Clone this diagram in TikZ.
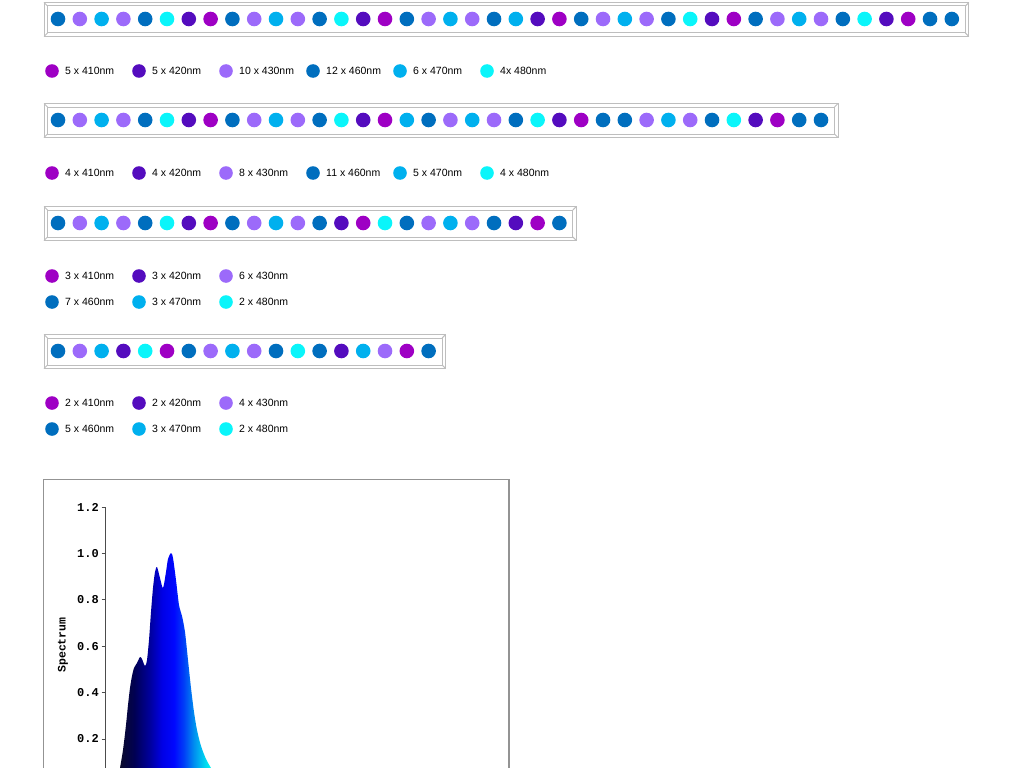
\documentclass[tikz,border=0pt]{standalone}
\usepackage{fontspec}
\setmainfont{Liberation Sans}
\setmonofont{Liberation Mono}
\usepackage{tikz}
\usetikzlibrary{calc}

\definecolor{nm410}{RGB}{158,0,196}
\definecolor{nm420}{RGB}{84,12,190}
\definecolor{nm430}{RGB}{156,106,250}
\definecolor{nm460}{RGB}{0,110,190}
\definecolor{nm470}{RGB}{0,176,238}
\definecolor{nm480}{RGB}{10,245,250}
\definecolor{tube}{RGB}{190,190,190}

\pgfdeclarehorizontalshading{spectrumfill}{100bp}{rgb(0bp)=(0.05,0.05,0.15); rgb(26bp)=(0.05,0.05,0.15); rgb(34bp)=(0,0,0.32); rgb(42bp)=(0,0,0.62); rgb(48bp)=(0,0,0.9); rgb(54bp)=(0,0.03,1); rgb(59bp)=(0,0.25,0.97); rgb(64bp)=(0,0.56,0.94); rgb(69bp)=(0,0.82,0.94); rgb(73bp)=(0,1,0.94); rgb(100bp)=(0,1,0.94)}

\tikzset{
  legtext/.style={anchor=west,inner sep=0pt,font=\fontsize{10.5}{12}\selectfont},
  ticktext/.style={anchor=east,inner sep=0pt,font=\fontsize{12}{12}\selectfont\ttfamily\bfseries},
  tubeline/.style={draw=tube,line width=1pt}
}

\begin{document}
\begin{tikzpicture}[x=1pt,y=-1pt]
\useasboundingbox (0,0) rectangle (1020,768);

\foreach \yc/\n in {19/42,120/36,223/24,351/18}{
  \draw[tubeline] (44,\yc-16.5) rectangle ({58+21.8*(\n-1)+17},\yc+17.5);
  \draw[tubeline] (47.5,\yc-13) rectangle ({58+21.8*(\n-1)+13.5},\yc+14);
  \draw[tubeline] (44,\yc-16.5) -- (47.5,\yc-13);
  \draw[tubeline] (44,\yc+17.5) -- (47.5,\yc+14);
  \draw[tubeline] ({58+21.8*(\n-1)+17},\yc-16.5) -- ({58+21.8*(\n-1)+13.5},\yc-13);
  \draw[tubeline] ({58+21.8*(\n-1)+17},\yc+17.5) -- ({58+21.8*(\n-1)+13.5},\yc+14);
}

\foreach \w [count=\i from 0] in {460,430,470,430,460,480,420,410,460,430,470,430,460,480,420,410,460,430,470,430,460,470,420,410,460,430,470,430,460,480,420,410,460,430,470,430,460,480,420,410,460,460}
  \fill[nm\w] ({58+21.8*\i},19) circle (7.3pt);
\foreach \w [count=\i from 0] in {460,430,470,430,460,480,420,410,460,430,470,430,460,480,420,410,470,460,430,470,430,460,480,420,410,460,460,430,470,430,460,480,420,410,460,460}
  \fill[nm\w] ({58+21.8*\i},120) circle (7.3pt);
\foreach \w [count=\i from 0] in {460,430,470,430,460,480,420,410,460,430,470,430,460,420,410,480,460,430,470,430,460,420,410,460}
  \fill[nm\w] ({58+21.8*\i},223) circle (7.3pt);
\foreach \w [count=\i from 0] in {460,430,470,420,480,410,460,430,470,430,460,480,460,420,470,430,410,460}
  \fill[nm\w] ({58+21.8*\i},351) circle (7.3pt);

\foreach \w/\t [count=\i from 0] in {410/5 x 410nm,420/5 x 420nm,430/10 x 430nm,460/12 x 460nm,470/6 x 470nm,480/4x 480nm}{
  \fill[nm\w] ({52+87*\i},71) circle (6.8pt);
  \node[legtext] (la\i) at ({65+87*\i},71) {\t};
}
\foreach \w/\t [count=\i from 0] in {410/4 x 410nm,420/4 x 420nm,430/8 x 430nm,460/11 x 460nm,470/5 x 470nm,480/4 x 480nm}{
  \fill[nm\w] ({52+87*\i},173) circle (6.8pt);
  \node[legtext] (lb\i) at ({65+87*\i},173) {\t};
}
\foreach \w/\t/\yy/\k in {410/3 x 410nm/276/0,420/3 x 420nm/276/1,430/6 x 430nm/276/2,460/7 x 460nm/302/0,470/3 x 470nm/302/1,480/2 x 480nm/302/2}{
  \fill[nm\w] ({52+87*\k},\yy) circle (6.8pt);
  \node[legtext] (lc\w) at ({65+87*\k},\yy) {\t};
}
\foreach \w/\t/\yy/\k in {410/2 x 410nm/403/0,420/2 x 420nm/403/1,430/4 x 430nm/403/2,460/5 x 460nm/429/0,470/3 x 470nm/429/1,480/2 x 480nm/429/2}{
  \fill[nm\w] ({52+87*\k},\yy) circle (6.8pt);
  \node[legtext] (ld\w) at ({65+87*\k},\yy) {\t};
}

\begin{scope}
\clip (0,0) rectangle (1020,768);
\draw[gray!85,line width=1.4pt] (43.5,479.5) rectangle (509,800);
\shade[shading=spectrumfill] (116,790) -- plot[smooth,tension=.45] coordinates {(120,768) (123,750) (126,725) (128,705) (130,688) (132,676) (134,668) (137,663) (140,657) (142,659) (145,666) (147,660) (149,640) (151,612) (153,588) (155,572) (157,567) (160,578) (163,588) (166,572) (168,559) (171,553) (173,558) (176,580) (179,605) (182,616) (185,632) (188,660) (191,688) (194,712) (197,730) (201,746) (206,759) (211,768)} -- (216,790) -- cycle;
\draw[black!70,line width=.9pt] (105,507) -- (105,800);
\foreach \v/\yy [count=\i] in {0.2/739,0.4/692.6,0.6/646.2,0.8/599.8,1.0/553.4,1.2/507}{
  \draw[black!70,line width=.9pt] (101.5,\yy) -- (105,\yy);
  \node[ticktext] (t\i) at (99,\yy) {\v};
}
\node[rotate=90,inner sep=0pt,font=\fontsize{11.5}{12}\selectfont\ttfamily\bfseries] (ylabel) at (63,645) {Spectrum};
\end{scope}
\end{tikzpicture}
\end{document}
